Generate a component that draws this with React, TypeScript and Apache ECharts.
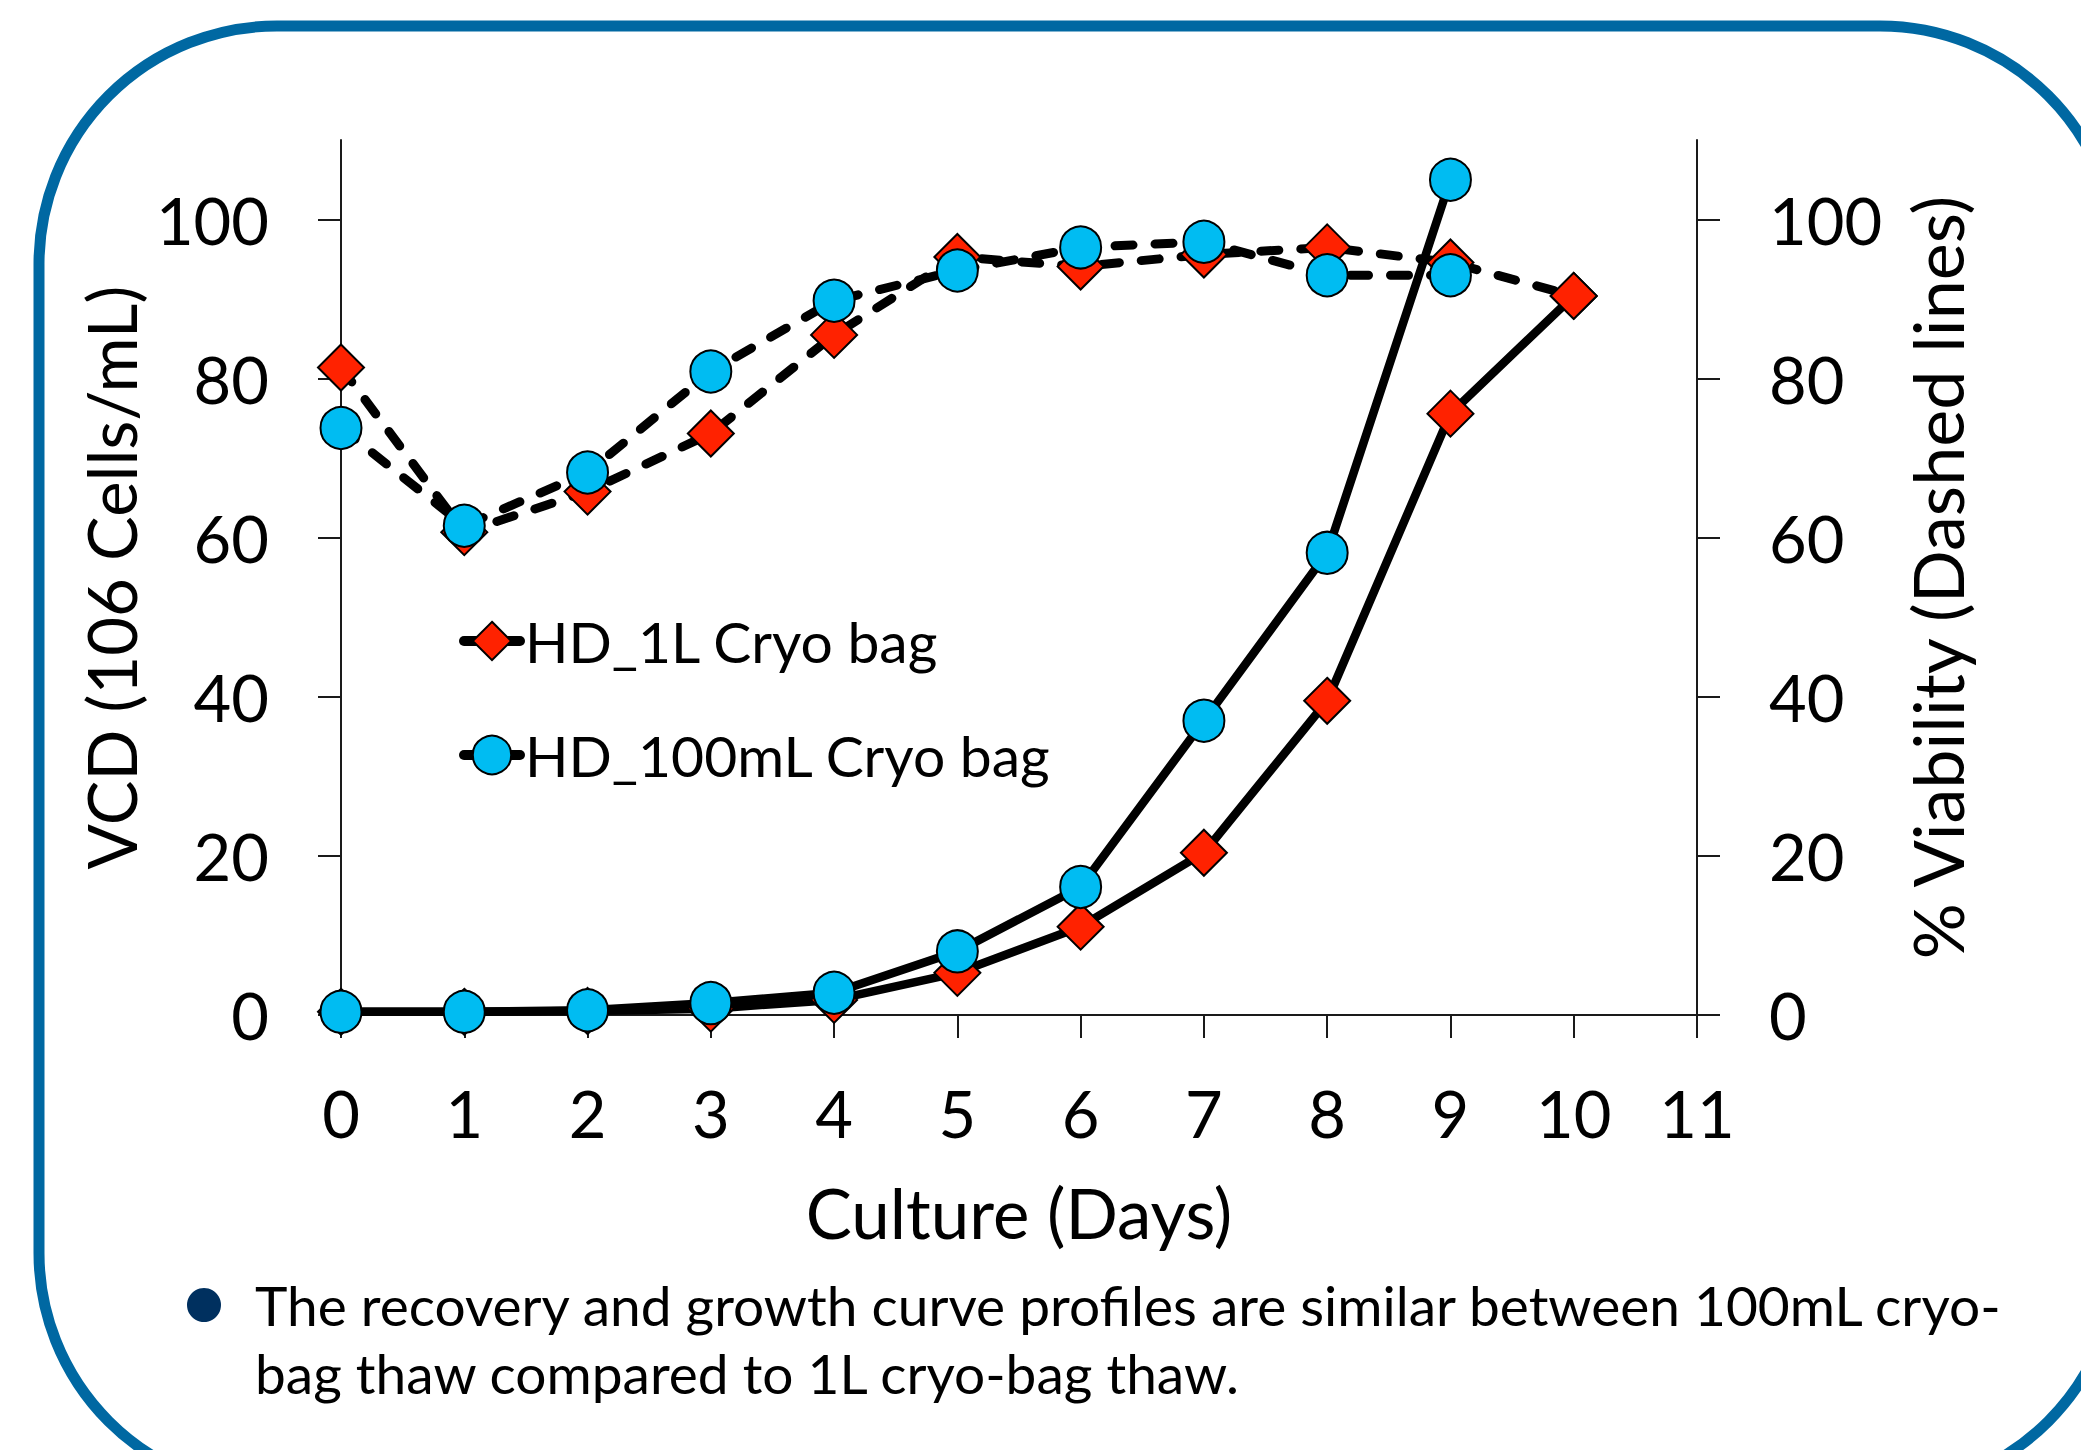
import React, { useEffect, useRef } from "react";
import * as echarts from "echarts";

const days = [0, 1, 2, 3, 4, 5, 6, 7, 8, 9, 10];
const xTicks = [0, 1, 2, 3, 4, 5, 6, 7, 8, 9, 10, 11];
const yTicks = [0, 20, 40, 60, 80, 100];

// VCD (10^6 cells/mL) - solid lines
const vcd1L = [0.4, 0.4, 0.5, 0.8, 1.9, 5.3, 11.1, 20.4, 39.5, 75.6, 90.4];
const vcd100mL = [0.4, 0.4, 0.6, 1.5, 2.8, 8.0, 16.1, 37.0, 58.1, 105.0];

// % Viability - dashed lines
const via1L = [81.4, 60.7, 65.8, 73.1, 85.5, 95.3, 94.1, 95.6, 96.5, 94.6, 90.4];
const via100mL = [73.8, 61.5, 68.2, 80.9, 89.8, 93.6, 96.5, 97.2, 93.0, 93.0];

const seriesNames = ["HD_1L Cryo bag", "HD_100mL Cryo bag"];
const noteLines = [
  "The recovery and growth curve profiles are similar between 100mL cryo-",
  "bag thaw compared to 1L cryo-bag thaw.",
];

const FONT = "Lato";
const RED = "#FF2200";
const BLUE = "#00BCF2";

const pairs = (vals: number[]) => vals.map((v, i) => [days[i], v]);

export default function App() {
  const ref = useRef<HTMLDivElement>(null);

  useEffect(() => {
    if (!ref.current) return;
    const chart = echarts.init(ref.current, null, { renderer: "svg" });

    const axisLine = { show: true, lineStyle: { color: "#1a1a1a", width: 2 } };
    const axisTick = {
      show: true,
      inside: false,
      length: 23,
      lineStyle: { color: "#1a1a1a", width: 2 },
      customValues: yTicks,
    };
    const labelStyle = { fontFamily: FONT, fontSize: 65, color: "#000" };

    const solid = { color: "#000", width: 8.5, type: "solid" as const, cap: "round" as const, join: "round" as const };
    const dashed = { color: "#000", width: 9, type: [18, 22], cap: "round" as const, join: "round" as const };
    const redItem = { color: RED, borderColor: "#000", borderWidth: 2 };
    const blueItem = { color: BLUE, borderColor: "#000", borderWidth: 2 };

    const legendBase = {
      orient: "vertical" as const,
      left: 459,
      itemWidth: 56,
      itemHeight: 48,
      itemGap: 0,
      padding: 0,
      selectedMode: false,
      lineStyle: { width: 10, type: "solid", cap: "round", color: "#000" },
      textStyle: { fontFamily: FONT, fontSize: 57, color: "#000", lineHeight: 60 },
    };

    chart.setOption({
      animation: false,
      backgroundColor: "#fff",
      grid: { left: 341, right: 384, top: 140, bottom: 435, containLabel: false },
      legend: [
        { ...legendBase, data: [seriesNames[0]], top: 641 - 30 },
        { ...legendBase, data: [seriesNames[1]], top: 755 - 30 },
      ],
      xAxis: {
        type: "value",
        min: 0,
        max: 11,
        interval: 1,
        name: "Culture (Days)",
        nameLocation: "middle",
        nameGap: 163,
        nameTextStyle: { fontFamily: FONT, fontSize: 69, color: "#000" },
        axisLine: { ...axisLine, onZero: false },
        axisTick: { show: true, length: 23, lineStyle: { color: "#1a1a1a", width: 2 } },
        axisLabel: { ...labelStyle, margin: 65, formatter: (v: number) => (xTicks.includes(v) ? String(v) : "") },
        splitLine: { show: false },
      },
      yAxis: [
        {
          type: "value",
          position: "left",
          min: 0,
          max: 110,
          interval: 20,
          name: "VCD (106 Cells/mL)",
          nameLocation: "middle",
          nameGap: 193,
          nameRotate: 90,
          nameTextStyle: { fontFamily: FONT, fontSize: 67, color: "#000" },
          axisLine,
          axisTick,
          axisLabel: { ...labelStyle, margin: 72, customValues: yTicks },
          splitLine: { show: false },
        },
        {
          type: "value",
          position: "right",
          min: 0,
          max: 110,
          interval: 20,
          name: "% Viability (Dashed lines)",
          nameLocation: "middle",
          nameGap: 205,
          nameRotate: 90,
          nameTextStyle: { fontFamily: FONT, fontSize: 70, color: "#000" },
          axisLine,
          axisTick,
          axisLabel: { ...labelStyle, margin: 72, customValues: yTicks },
          splitLine: { show: false },
        },
      ],
      series: [
        {
          name: seriesNames[0] + " viability",
          type: "line",
          yAxisIndex: 1,
          data: pairs(via1L),
          symbol: "diamond",
          symbolSize: [46, 46],
          itemStyle: redItem,
          lineStyle: dashed,
          z: 2,
        },
        {
          name: seriesNames[0],
          type: "line",
          yAxisIndex: 0,
          data: pairs(vcd1L),
          symbol: "diamond",
          symbolSize: [46, 46],
          itemStyle: redItem,
          lineStyle: solid,
          z: 3,
        },
        {
          name: seriesNames[1] + " viability",
          type: "line",
          yAxisIndex: 1,
          data: pairs(via100mL),
          symbol: "circle",
          symbolSize: [41, 42],
          itemStyle: blueItem,
          lineStyle: dashed,
          z: 4,
        },
        {
          name: seriesNames[1],
          type: "line",
          yAxisIndex: 0,
          data: pairs(vcd100mL),
          symbol: "circle",
          symbolSize: [41, 42],
          itemStyle: blueItem,
          lineStyle: solid,
          z: 5,
        },
      ],
      graphic: [
        {
          type: "rect",
          z: -10,
          silent: true,
          shape: { x: 39, y: 26, width: 2079, height: 1465, r: 238 },
          style: { fill: "none", stroke: "#0068A2", lineWidth: 11 },
        },
        {
          type: "circle",
          silent: true,
          shape: { cx: 204, cy: 1305, r: 17 },
          style: { fill: "#00305F" },
        },
        {
          type: "text",
          silent: true,
          x: 255,
          y: 1305,
          style: { text: noteLines[0], fontFamily: FONT, fontSize: 55, fill: "#000", verticalAlign: "middle" },
        },
        {
          type: "text",
          silent: true,
          x: 255,
          y: 1373,
          style: { text: noteLines[1], fontFamily: FONT, fontSize: 55, fill: "#000", verticalAlign: "middle" },
        },
      ],
    });

    return () => chart.dispose();
  }, []);

  return (
    <div
      ref={ref}
      style={{ position: "absolute", left: 0, top: 0, width: 2081, height: 1450, background: "#fff" }}
    />
  );
}
